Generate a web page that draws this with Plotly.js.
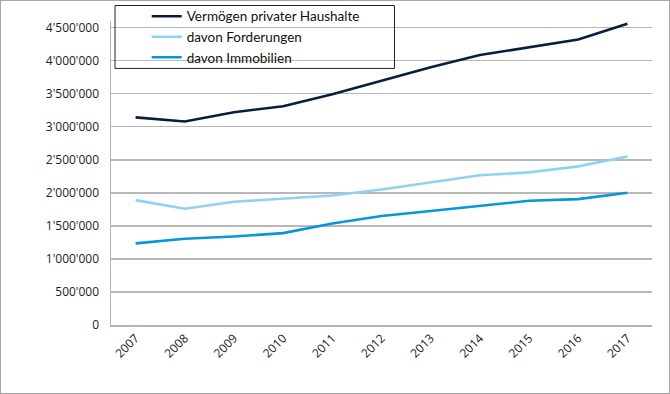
<!DOCTYPE html>
<html><head><meta charset="utf-8">
<script src="https://cdn.plot.ly/plotly-3.0.1.min.js"></script>
<style>html,body{margin:0;padding:0;background:#fff}#c{width:670px;height:394px;box-sizing:border-box;border:1px solid #a6a6a6}</style>
</head><body><div id="c"></div>
<script>
const years = ['2007','2008','2009','2010','2011','2012','2013','2014','2015','2016','2017'];
const vermoegen = [3142000,3080000,3220000,3310000,3490000,3700000,3900000,4085000,4200000,4320000,4560000];
const forderungen = [1890000,1760000,1865000,1910000,1960000,2050000,2160000,2265000,2310000,2400000,2550000];
const immobilien = [1235000,1305000,1340000,1390000,1535000,1650000,1725000,1800000,1880000,1905000,2000000];
const names = ['Vermögen privater Haushalte','davon Forderungen','davon Immobilien'];
const colors = ['#0b1d3f','#8fd3f2','#0a95d8'];
const series = [vermoegen, forderungen, immobilien];
const traces = series.map((s,i)=>({x:years,y:s,name:names[i],type:'scatter',mode:'lines',
  line:{color:colors[i],width:2.6},hoverinfo:'skip'}));
const F = 'Open Sans, Noto Sans, sans-serif';
const layout = {
  width:668,height:392,
  margin:{l:110,r:17,t:19.5,b:68,autoexpand:false},
  paper_bgcolor:'#fff',plot_bgcolor:'#fff',
  separators:".'",
  font:{family:F,size:12,color:'#222'},
  showlegend:true,
  legend:{x:0.066,y:1.066,xanchor:'left',yanchor:'top',bgcolor:'rgba(0,0,0,0)',borderwidth:0,
    font:{family:'Lato, Open Sans, sans-serif',size:13.5,color:'#111'},tracegroupgap:0,itemwidth:30},
  xaxis:{type:'category',range:[-0.5,10.5],showgrid:false,showline:true,linecolor:'#b3b3b3',linewidth:1.5,
    ticks:'',tickangle:-45,tickfont:{family:F,size:12,color:'#222'},fixedrange:true},
  yaxis:{range:[0,4600000],tickvals:[0,500000,1000000,1500000,2000000,2500000,3000000,3500000,4000000,4500000],
    tickformat:',d',showgrid:true,gridcolor:'#b8b8b8',gridwidth:1.5,zeroline:false,
    showline:true,linecolor:'#b3b3b3',linewidth:1.5,ticks:'',ticklabelstandoff:8,
    tickfont:{family:F,size:12,color:'#222'},fixedrange:true},
  shapes:[{type:'rect',xref:'paper',yref:'paper',x0:0.0074,x1:0.524,y0:0.844,y1:1.051,
    line:{color:'#222',width:1},fillcolor:'rgba(0,0,0,0)',layer:'above'}]
};
Plotly.newPlot('c',traces,layout,{displayModeBar:false,staticPlot:true});
</script></body></html>
